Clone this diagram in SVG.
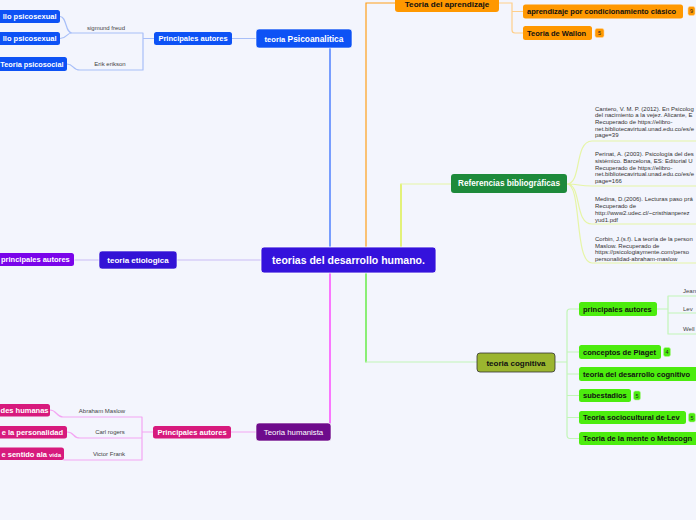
<svg xmlns="http://www.w3.org/2000/svg" width="696" height="520" viewBox="0 0 696 520">
<style>
text{font-family:"Liberation Sans",Arial,sans-serif}
.b{font-weight:bold}
.w{fill:#fff}
.k{fill:#111}
.lbl{font-size:6px;fill:#444}
.ref{font-size:6px;fill:#333}
.n7{font-size:7.5px}
.c{fill:none;stroke-width:1.2;stroke-linecap:round}
.badge{font-size:5.5px;fill:#222;text-anchor:middle}
</style>
<rect width="696" height="520" fill="#f3f5fd"/>

<g id="connectors">
  <path class="c" d="M261,260 H177" stroke="#c9bcf5" stroke-width="1.5"/>
  <path class="c" d="M99,260 H75" stroke="#c9bcf5" stroke-width="1.5"/>
  <path class="c" d="M330,247 V48" stroke="#2563ff" stroke-width="1.6"/>
  <path class="c" d="M256,38.5 H232" stroke="#a8bff8" stroke-width="1.4"/>
  <path class="c" d="M154,38.5 H143 M143,33 V70 M143,33 H72 C65,33 67,16.5 60,16.5 M72,33 C66,33 67,38.5 60,38.5 M143,70 H80 C72,70 74,64 67,64" stroke="#a8bff8"/>
  <path class="c" d="M366,247 V3 H395" stroke="#ff9f1a" stroke-width="1.6"/>
  <path class="c" d="M499,3 H512 V30 Q512,33 515,33 H523 M512,11.5 H523" stroke="#ffcf8a"/>
  <path class="c" d="M401,247 V184" stroke="#d8ef22" stroke-width="1.6"/>
  <path class="c" d="M401,184 H451" stroke="#e6f5a6" stroke-width="1.4"/>
  <path class="c" d="M567,184 C582,184 574,141 592,141 H700 M567,184 C580,184 578,186 592,186 H700 M567,184 C582,184 574,224 592,224 H700 M567,184 C582,184 574,263 592,263 H700" stroke="#e6f5a6"/>
  <path class="c" d="M366,273 V362" stroke="#44ea1c" stroke-width="1.6"/>
  <path class="c" d="M366,362 H477" stroke="#c2f5b8" stroke-width="1.4"/>
  <path class="c" d="M555,362 H567 M567,312 V435 M567,312 Q567,309 570,309 H579 M567,352 H579 M567,374 H579 M567,395.5 H579 M567,417.5 H579 M567,435 Q567,438.5 570,438.5 H579" stroke="#c2f5b8"/>
  <path class="c" d="M657,309 H668 M668,296 V334 M668,296 H700 M668,313 H700 M668,334 H700" stroke="#c2f5b8"/>
  <path class="c" d="M330,273 V423" stroke="#ff22ff" stroke-width="1.6"/>
  <path class="c" d="M256,432 H231" stroke="#f3a6f3" stroke-width="1.4"/>
  <path class="c" d="M153,432 H142 M142,417 V460 M142,417 H63 C56,417 57,410 50,410 M142,438 H80 C72,438 75,432 67,432 M142,460 H64" stroke="#f3a6f3"/>
  <text class="lbl" x="106" y="30" text-anchor="middle">sigmund freud</text>
  <text class="lbl" x="110" y="66" text-anchor="middle">Erik erikson</text>
  <text class="lbl" x="102" y="413" text-anchor="middle">Abraham Maslow</text>
  <text class="lbl" x="110" y="434" text-anchor="middle">Carl rogers</text>
  <text class="lbl" x="109" y="456" text-anchor="middle">Victor Frank</text>
  <text class="lbl" x="683" y="293">Jean</text>
  <text class="lbl" x="683" y="311">Lev</text>
  <text class="lbl" x="683" y="331">Well</text>
</g>

<g id="central">
  <rect x="261" y="247" width="175" height="26" rx="3" fill="#3412dc" stroke="#fff" stroke-width="0.8"/>
  <text class="b w" x="348.5" y="264" font-size="10.5" text-anchor="middle">teorias del desarrollo humano.</text>
</g>

<g id="etiologica">
  <rect x="99" y="251" width="78" height="18" rx="3" fill="#3313d6" stroke="#fff" stroke-width="0.6"/>
  <text class="b w" x="138" y="262.5" font-size="8" text-anchor="middle">teoria etiologica</text>
</g>
<g id="etio-autores">
  <rect x="-6" y="253" width="80" height="13" rx="2.5" fill="#7a04ea"/>
  <text class="b w n7" x="1" y="262.3">principales autores</text>
</g>

<g id="psicoanalitica">
  <rect x="256" y="29" width="96" height="19" rx="3" fill="#0d52f5" stroke="#fff" stroke-width="0.6"/>
  <text class="b w" x="304" y="41.5" font-size="8.4" text-anchor="middle"><tspan font-size="7.6">teoria</tspan> Psicoanalitica</text>
</g>
<g id="psico-autores">
  <rect x="154" y="32" width="78" height="13" rx="2.5" fill="#0d52f5"/>
  <text class="b w n7" x="193" y="41.2" text-anchor="middle">Principales autores</text>
</g>
<g id="psicosexual1">
  <rect x="-20" y="10" width="80" height="13" rx="2.5" fill="#0d52f5"/>
  <text class="b w n7" x="56.5" y="19.2" text-anchor="end">llo psicosexual</text>
</g>
<g id="psicosexual2">
  <rect x="-20" y="32" width="80" height="13" rx="2.5" fill="#0d52f5"/>
  <text class="b w n7" x="56.5" y="41.2" text-anchor="end">llo psicosexual</text>
</g>
<g id="psicosocial">
  <rect x="-20" y="57" width="87" height="14" rx="2.5" fill="#0d52f5"/>
  <text class="b w" x="63.5" y="66.7" font-size="7.3" text-anchor="end">Teoria psicosocial</text>
</g>

<g id="aprendizaje">
  <rect x="395" y="-6" width="104" height="18" rx="3" fill="#ff9800"/>
  <text class="b k" x="447" y="6.6" font-size="8.1" text-anchor="middle">Teoria del aprendizaje</text>
</g>
<g id="condicionamiento">
  <rect x="523" y="4.5" width="160" height="14" rx="2.5" fill="#ff9800"/>
  <text class="b k n7" x="527" y="14.3">aprendizaje por condicionamiento clásico</text>
  <rect x="688" y="6.5" width="7" height="9" rx="2" fill="#ff9800" stroke="#ffd59a" stroke-width="0.6"/>
  <text class="badge" x="691.5" y="13">9</text>
</g>
<g id="wallon">
  <rect x="523" y="26" width="69" height="14" rx="2.5" fill="#ff9800"/>
  <text class="b k n7" x="527" y="35.8">Teoria de Wallon</text>
  <rect x="595" y="28.5" width="9" height="9" rx="2" fill="#ff9800" stroke="#ffd59a" stroke-width="0.6"/>
  <text class="badge" x="599.5" y="35">5</text>
</g>

<g id="referencias">
  <rect x="451" y="174" width="116" height="19" rx="3" fill="#1d8a3b"/>
  <text class="b w" x="509" y="186.3" font-size="8.2" text-anchor="middle">Referencias bibliográficas</text>
</g>
<g id="ref1">
  <text class="ref" x="595" y="110.5">Cantero, V. M. P. (2012). En Psicolog</text>
  <text class="ref" x="595" y="117.2">del nacimiento a la vejez. Alicante, E</text>
  <text class="ref" x="595" y="123.9">Recuperado de https://elibro-</text>
  <text class="ref" x="595" y="130.6">net.bibliotecavirtual.unad.edu.co/es/e</text>
  <text class="ref" x="595" y="137.3">page=39</text>
</g>
<g id="ref2">
  <text class="ref" x="595" y="156.3">Perinat, A. (2003). Psicología del des</text>
  <text class="ref" x="595" y="163">sistémico. Barcelona, ES: Editorial U</text>
  <text class="ref" x="595" y="169.7">Recuperado de https://elibro-</text>
  <text class="ref" x="595" y="176.4">net.bibliotecavirtual.unad.edu.co/es/e</text>
  <text class="ref" x="595" y="183.1">page=166</text>
</g>
<g id="ref3">
  <text class="ref" x="595" y="201.3">Medina, D.(2006). Lecturas paso prá</text>
  <text class="ref" x="595" y="208.2">Recuperado de</text>
  <text class="ref" x="595" y="215">http://www2.udec.cl/~cristhianperez</text>
  <text class="ref" x="595" y="221.8">yud1.pdf</text>
</g>
<g id="ref4">
  <text class="ref" x="595" y="241">Corbin, J.(s.f). La teoría de la person</text>
  <text class="ref" x="595" y="247.7">Maslow. Recuperado de</text>
  <text class="ref" x="595" y="254.4">https://psicologiaymente.com/perso</text>
  <text class="ref" x="595" y="261.1">personalidad-abraham-maslow</text>
</g>

<g id="cognitiva">
  <rect x="477" y="353" width="78" height="19" rx="3" fill="#9bb52f" stroke="#333" stroke-width="0.8"/>
  <text class="b k" x="516" y="365.5" font-size="8" text-anchor="middle">teoria cognitiva</text>
</g>
<g id="cog-autores">
  <rect x="579" y="302" width="78" height="14" rx="2.5" fill="#4cec0e"/>
  <text class="b k n7" x="583" y="311.8">principales autores</text>
</g>
<g id="piaget">
  <rect x="579" y="345" width="82" height="14" rx="2.5" fill="#4cec0e"/>
  <text class="b k n7" x="583" y="354.8">conceptos de Piaget</text>
  <rect x="663.5" y="347.5" width="7" height="9" rx="2" fill="#4cec0e" stroke="#b6f59a" stroke-width="0.6"/>
  <text class="badge" x="667" y="354">4</text>
</g>
<g id="desarrollo-cognitivo">
  <rect x="579" y="367" width="130" height="14" rx="2.5" fill="#4cec0e"/>
  <text class="b k n7" x="583" y="376.8">teoria del desarrollo cognitivo</text>
</g>
<g id="subestadios">
  <rect x="579" y="389" width="52" height="13" rx="2.5" fill="#4cec0e"/>
  <text class="b k n7" x="583" y="398.3">subestadios</text>
  <rect x="633.5" y="391" width="7" height="9" rx="2" fill="#4cec0e" stroke="#b6f59a" stroke-width="0.6"/>
  <text class="badge" x="637" y="397.5">5</text>
</g>
<g id="sociocultural">
  <rect x="579" y="411" width="107" height="13" rx="2.5" fill="#4cec0e"/>
  <text class="b k n7" x="583" y="420.3">Teoria sociocultural de Lev</text>
  <rect x="688.5" y="413" width="7" height="9" rx="2" fill="#4cec0e" stroke="#b6f59a" stroke-width="0.6"/>
  <text class="badge" x="692" y="419.5">5</text>
</g>
<g id="metacognicion">
  <rect x="579" y="432" width="130" height="13" rx="2.5" fill="#4cec0e"/>
  <text class="b k n7" x="583" y="441.3">Teoria de la mente o Metacogn</text>
</g>

<g id="humanista">
  <rect x="256" y="423" width="75" height="18" rx="3" fill="#6e0b8c" stroke="#fff" stroke-width="0.6"/>
  <text class="w" x="293.5" y="434.7" font-size="7.8" text-anchor="middle">Teoria humanista</text>
</g>
<g id="huma-autores">
  <rect x="153" y="426" width="78" height="12.5" rx="2.5" fill="#d71a7d"/>
  <text class="b w n7" x="192" y="435" text-anchor="middle">Principales autores</text>
</g>
<g id="necesidades">
  <rect x="-30" y="404" width="80" height="12.5" rx="2.5" fill="#d71a7d"/>
  <text class="b w n7" x="48.5" y="412.8" text-anchor="end">des humanas</text>
</g>
<g id="personalidad">
  <rect x="-30" y="426" width="97" height="12.5" rx="2.5" fill="#d71a7d"/>
  <text class="b w n7" x="63" y="434.8" text-anchor="end">e la personalidad</text>
</g>
<g id="sentido">
  <rect x="-30" y="447.5" width="94" height="12.5" rx="2.5" fill="#d71a7d"/>
  <text class="b w n7" x="61" y="456.5" text-anchor="end">e sentido ala <tspan font-size="6">vida</tspan></text>
</g>
</svg>
